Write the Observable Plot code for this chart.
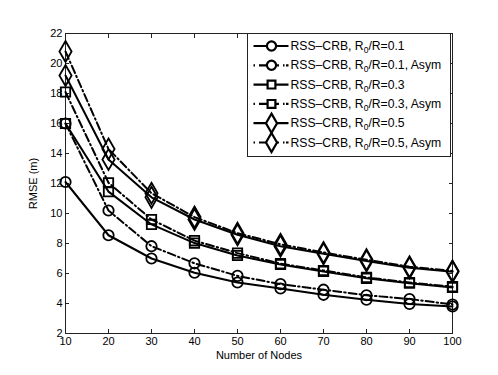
<!DOCTYPE html>
<html>
<head>
<meta charset="utf-8">
<script src="https://cdn.jsdelivr.net/npm/d3@7"></script>
<script src="https://cdn.jsdelivr.net/npm/@observablehq/plot@0.6"></script>
<style>
  html, body { margin: 0; padding: 0; background: #fff; }
  #chart { width: 498px; height: 375px; }
  svg { font-family: "Liberation Sans", Arial, Helvetica, sans-serif; }
</style>
</head>
<body>
<div id="chart"></div>
<script>
const nodes = [10, 20, 30, 40, 50, 60, 70, 80, 90, 100];
const crb01     = [12.1, 8.55, 7.0, 6.05, 5.4, 5.0, 4.58, 4.25, 3.97, 3.8];
const crb01Asym = [16.0, 10.2, 7.82, 6.68, 5.84, 5.29, 4.92, 4.55, 4.3, 3.93];
const crb03     = [16.0, 11.46, 9.27, 8.03, 7.2, 6.6, 6.14, 5.68, 5.35, 5.07];
const crb03Asym = [18.1, 12.05, 9.6, 8.19, 7.36, 6.66, 6.2, 5.74, 5.4, 5.12];
const crb05     = [19.2, 13.6, 11.08, 9.6, 8.58, 7.82, 7.31, 6.84, 6.38, 6.12];
const crb05Asym = [20.8, 14.3, 11.35, 9.76, 8.69, 7.95, 7.4, 6.92, 6.45, 6.17];

const seriesNames = [
  "RSS\u2013CRB, R0/R=0.1",
  "RSS\u2013CRB, R0/R=0.1, Asym",
  "RSS\u2013CRB, R0/R=0.3",
  "RSS\u2013CRB, R0/R=0.3, Asym",
  "RSS\u2013CRB, R0/R=0.5",
  "RSS\u2013CRB, R0/R=0.5, Asym"
];
const seriesValues = [crb01, crb01Asym, crb03, crb03Asym, crb05, crb05Asym];
const seriesSymbols = ["circle", "circle", "square", "square", "diamond", "diamond"];
const seriesAsym = [false, true, false, true, false, true];

const xTicks = [10, 20, 30, 40, 50, 60, 70, 80, 90, 100];
const yTicks = [2, 4, 6, 8, 10, 12, 14, 16, 18, 20, 22];

const DASH = "8,3,1.5,3";
const symR = {circle: 5.2, square: 5.3, diamond: 6.4};

const series = seriesNames.map((name, i) => ({
  name, symbol: seriesSymbols[i], asym: seriesAsym[i],
  points: nodes.map((n, j) => ({x: n, y: seriesValues[i][j], s: i}))
}));

const marks = [];
for (const s of series) {
  marks.push(Plot.line(s.points, {
    x: "x", y: "y", stroke: "#000", strokeWidth: 2,
    strokeDasharray: s.asym ? DASH : null
  }));
  marks.push(Plot.dot(s.points, {
    x: "x", y: "y", symbol: () => s.symbol, r: symR[s.symbol],
    stroke: "#000", strokeWidth: 1.8, fill: "none"
  }));
}

const inward = 4;
const plot = Plot.plot({
  width: 498,
  height: 375,
  marginLeft: 65,
  marginRight: 46,
  marginTop: 33,
  marginBottom: 42,
  style: {fontSize: "11px", fontFamily: "'Liberation Sans', Arial, sans-serif", color: "#000", background: "#fff"},
  x: {domain: [10, 100], ticks: xTicks},
  y: {domain: [2, 22], ticks: yTicks},
  marks: [
    Plot.frame({stroke: "#222", strokeWidth: 1}),
    Plot.axisX(xTicks, {anchor: "bottom", tickSize: -inward, tickPadding: inward + 4, stroke: "#222",
      label: "Number of Nodes", labelAnchor: "center", labelArrow: "none", labelOffset: 25}),
    Plot.axisX(xTicks, {anchor: "top", tickSize: -inward, text: null, label: null, stroke: "#222"}),
    Plot.axisY(yTicks, {anchor: "left", tickSize: -inward, tickPadding: inward + 3, stroke: "#222",
      label: "RMSE (m)", labelAnchor: "center", labelArrow: "none", labelOffset: 36}),
    Plot.axisY(yTicks, {anchor: "right", tickSize: -inward, text: null, label: null, stroke: "#222"}),
    ...marks
  ]
});
document.getElementById("chart").appendChild(plot);

// Legend (inside the axes, top-right), MATLAB-style
const svg = d3.select(plot);
const lx = 247.5, ly = 33.5, lw = 203, lh = 123;
const g = svg.append("g").attr("class", "legend").attr("text-anchor", "start");
g.append("rect").attr("x", lx).attr("y", ly).attr("width", lw).attr("height", lh)
  .attr("fill", "#fff").attr("stroke", "#222").attr("stroke-width", 1);
const legR = {circle: 4.6, square: 4.4, diamond: 5.8};
const symbolPath = {
  circle: d3.symbol(d3.symbolCircle, Math.PI * legR.circle ** 2)(),
  square: d3.symbol(d3.symbolSquare, Math.PI * legR.square ** 2)(),
  diamond: d3.symbol(d3.symbolDiamond, Math.PI * legR.diamond ** 2)()
};
series.forEach((s, i) => {
  const y = ly + 12.5 + i * 19.3;
  const row = g.append("g");
  row.append("line").attr("x1", lx + 6).attr("x2", lx + 41).attr("y1", y).attr("y2", y)
    .attr("stroke", "#000").attr("stroke-width", 2.2)
    .attr("stroke-dasharray", s.asym ? "1.5,4,20,4,1.5" : null);
  row.append("path").attr("d", symbolPath[s.symbol])
    .attr("transform", `translate(${lx + 24},${y})`)
    .attr("fill", "#fff").attr("stroke", "#000").attr("stroke-width", 2.2);
  const parts = s.name.split("R0/R");
  const t = row.append("text").attr("x", lx + 43).attr("y", y + 4)
    .attr("font-size", 12.2).attr("fill", "#000").attr("text-anchor", "start");
  t.append("tspan").text(parts[0] + "R");
  t.append("tspan").attr("dy", 3).attr("font-size", 8.5).text("0");
  t.append("tspan").attr("dy", -3).text("/R" + parts[1]);
});
</script>
</body>
</html>
